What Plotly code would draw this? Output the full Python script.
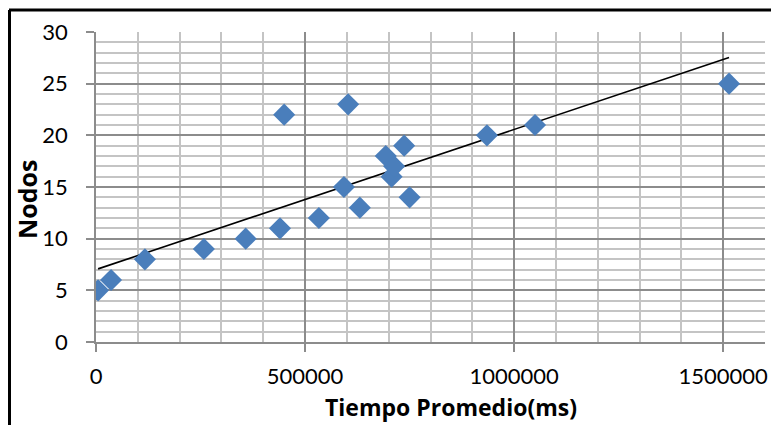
import numpy as np
import plotly.graph_objects as go

# Tiempo promedio (ms) vs número de nodos
tiempo = [5000, 36000, 117000, 258000, 358000, 440000, 450000, 533000, 603000,
          593000, 631000, 693000, 707000, 713000, 737000, 750000, 935000,
          1050000, 1514000]
nodos = [5, 6, 8, 9, 10, 11, 22, 12, 23, 15, 13, 18, 16, 17, 19, 14, 20, 21, 25]

# Linear trendline (least squares), drawn over the data span
slope, intercept = np.polyfit(tiempo, nodos, 1)
x_fit = [min(tiempo), max(tiempo)]
y_fit = [slope * v + intercept for v in x_fit]

fig = go.Figure()
fig.add_trace(go.Scatter(x=x_fit, y=y_fit, mode="lines",
                         line=dict(color="black", width=1.6),
                         hoverinfo="skip", showlegend=False))
fig.add_trace(go.Scatter(x=tiempo, y=nodos, mode="markers",
                         marker=dict(symbol="diamond", size=17, color="#4A7EBB",
                                     line=dict(width=0)),
                         showlegend=False))

tick_font = dict(family="Lato, Open Sans, sans-serif", size=22, color="black")

fig.update_xaxes(range=[0, 1600000], tickvals=[0, 500000, 1000000, 1500000],
                 ticktext=["0", "500000", "1000000", "1500000"],
                 showgrid=True, gridcolor="#8c8c8c", gridwidth=1.5,
                 minor=dict(dtick=100000, showgrid=True, gridcolor="#c4c4c4",
                            gridwidth=2),
                 ticks="outside", ticklen=8, tickcolor="#8c8c8c", tickwidth=1.5,
                 ticklabelstandoff=6, automargin=False,
                 showline=True, linecolor="#8c8c8c", linewidth=1.5,
                 zeroline=False, tickfont=tick_font)
fig.update_yaxes(range=[0, 30], dtick=5,
                 showgrid=True, gridcolor="#8c8c8c", gridwidth=1.5,
                 minor=dict(dtick=1, showgrid=True, gridcolor="#c4c4c4",
                            gridwidth=2),
                 ticks="outside", ticklen=8, tickcolor="#8c8c8c", tickwidth=1.5,
                 ticklabelstandoff=14, automargin=False,
                 showline=True, linecolor="#8c8c8c", linewidth=1.5,
                 zeroline=False, tickfont=tick_font)

# Axis titles (paper area is 669 x 310 px)
fig.add_annotation(text="<b>Tiempo Promedio(ms)</b>", xref="paper", yref="paper",
                   x=(451 - 96) / 669, y=(342 - 407) / 310, showarrow=False,
                   xanchor="center", yanchor="middle",
                   font=dict(family="Open Sans, sans-serif", size=23, color="black"))
fig.add_annotation(text="<b>Nodos</b>", xref="paper", yref="paper",
                   x=(27 - 96) / 669, y=(342 - 199) / 310, showarrow=False,
                   textangle=-90, xanchor="center", yanchor="middle",
                   font=dict(family="Open Sans, sans-serif", size=25, color="black"))

# Outer black frame (top and left edges visible in the original)
fig.add_shape(type="line", xref="paper", yref="paper",
              x0=(9 - 96) / 669, x1=1.05, y0=(342 - 10) / 310, y1=(342 - 10) / 310,
              line=dict(color="black", width=3))
fig.add_shape(type="line", xref="paper", yref="paper",
              x0=(9.5 - 96) / 669, x1=(9.5 - 96) / 669, y0=(342 - 10) / 310, y1=-0.3,
              line=dict(color="black", width=3))

# page body adds an 8 px offset, so margins are shifted accordingly
fig.update_layout(width=779, height=425,
                  margin=dict(l=88, r=22, t=24, b=91),
                  plot_bgcolor="white", paper_bgcolor="white")
fig.write_html("out.html")
